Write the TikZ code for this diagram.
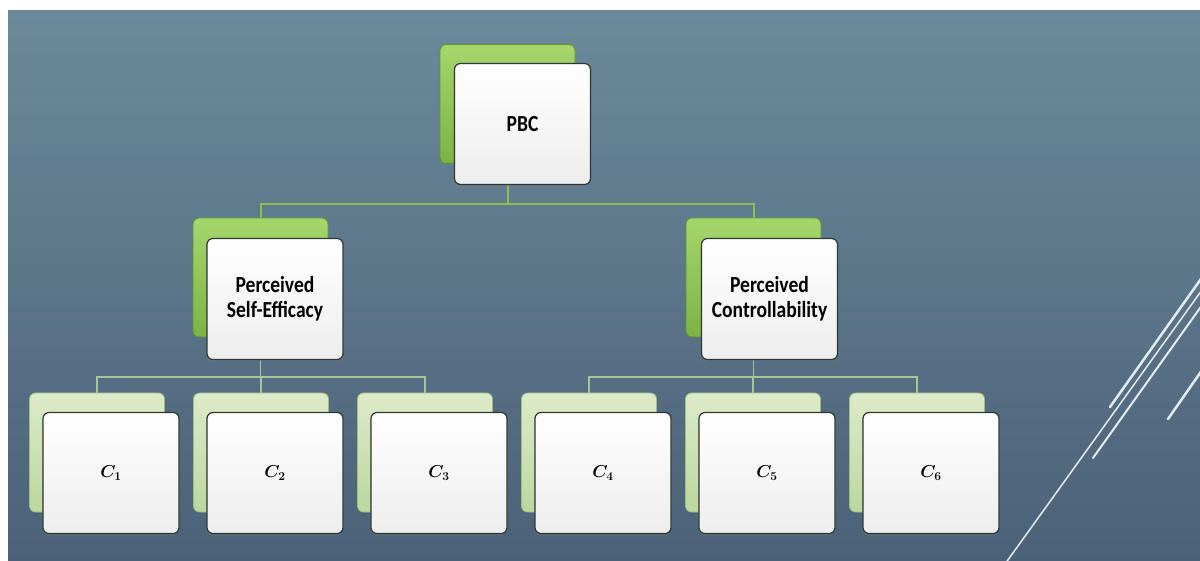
\documentclass[tikz,border=0pt]{standalone}
\usepackage{fontspec}
\newfontfamily\boxfont[FakeStretch=0.85]{Carlito}
\usepackage{tikz}
\usetikzlibrary{positioning, calc, backgrounds, shadows}

\definecolor{slidetop}{HTML}{6C899B}
\definecolor{slidebot}{HTML}{4B6177}
\definecolor{greentop}{HTML}{A6D56C}
\definecolor{greenbot}{HTML}{7BB443}
\definecolor{greenedge}{HTML}{5F9136}
\definecolor{paletop}{HTML}{DCEBC9}
\definecolor{palebot}{HTML}{BBD79E}
\definecolor{paleedge}{HTML}{9CBD80}
\definecolor{busgreen}{HTML}{8DBE4E}
\definecolor{leafline}{HTML}{A9C39A}
\definecolor{frontedge}{HTML}{2E3833}
\definecolor{stripecol}{HTML}{E4ECF1}

\pgfdeclarelayer{slide}
\pgfsetlayers{slide,background,main}

\begin{document}
\begin{tikzpicture}[x=1pt, y=-1pt,
    backbox/.style={rounded corners=6pt, minimum width=135pt, minimum height=119pt,
                    top color=greentop, bottom color=greenbot, draw=greenedge, line width=0.8pt},
    leafback/.style={backbox, top color=paletop, bottom color=palebot, draw=paleedge},
    frontbox/.style={rounded corners=6pt, minimum width=136pt, minimum height=121pt,
                     top color=white, bottom color=black!7, draw=frontedge, line width=1.2pt,
                     align=center, font=\boxfont\bfseries\fontsize{23}{25}\selectfont,
                     drop shadow={shadow xshift=-1pt, shadow yshift=-2pt, opacity=0.3}},
    leaffront/.style={frontbox, font=\LARGE\boldmath},
    bus/.style={busgreen, line width=2pt},
    twig/.style={leafline, line width=1.5pt},
    stripe/.style={stripecol, line cap=round},
]

% slide background
\begin{pgfonlayer}{slide}
\useasboundingbox (0,0) rectangle (1200,561);
\fill[white] (0,0) rectangle (1200,561);
\shade[top color=slidetop, bottom color=slidebot] (8,11) rectangle (1200,561);
\begin{scope}
\clip (8,11) rectangle (1200,561);
\draw[stripe, line width=2.5pt] (1110,407) -- (1230,238);
\draw[stripe, line width=1.5pt] (1000,571) -- (1230,251);
\draw[stripe, line width=2pt] (1093,458) -- (1230,266);
\draw[stripe, line width=2.5pt] (1168,419) -- (1230,330);
\end{scope}
\end{pgfonlayer}

% top
\node[backbox] (pbc-back) at (507.5,104) {};
\node[frontbox] (pbc) at (522.5,124) {PBC};

% middle row
\node[backbox] (pse-back) at (260.5,277.5) {};
\node[frontbox] (pse) at (275,299) {Perceived\\Self-Efficacy};
\node[backbox] (pc-back) at (753.5,277.5) {};
\node[frontbox] (pc) at (769.5,299) {Perceived\\Controllability};

% leaves
\foreach \i in {1,...,6} {
  \node[leafback] (c\i-back) at ({97+164*(\i-1)},452.5) {};
  \node[leaffront] (c\i) at ({111+164*(\i-1)},473) {$C_{\i}$};
}

% connectors
\begin{scope}[on background layer]
\coordinate (bus-top) at (0,204);
\coordinate (bus-low) at (0,377);
\draw[bus] (pbc-back.south) -- (pbc-back.south |- bus-top) -| (pse-back.north);
\draw[bus] (pbc-back.south |- bus-top) -| (pc-back.north);
\foreach \i in {1,2,3}
  \draw[twig] (pse-back.south) -- (pse-back.south |- bus-low) -| (c\i-back.north);
\foreach \i in {4,5,6}
  \draw[twig] (pc-back.south) -- (pc-back.south |- bus-low) -| (c\i-back.north);
\end{scope}

\end{tikzpicture}
\end{document}
